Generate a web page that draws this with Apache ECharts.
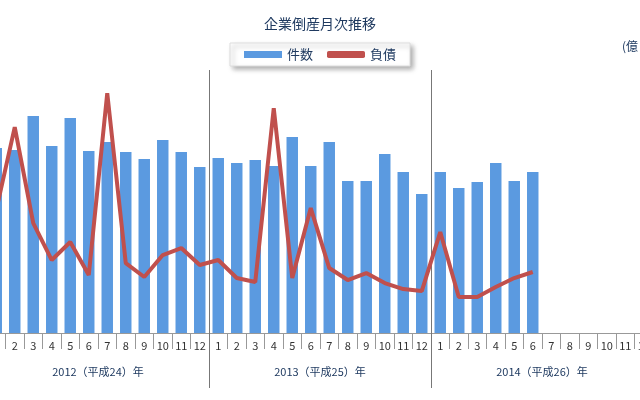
<!DOCTYPE html>
<html><head><meta charset="utf-8">
<script src="https://cdn.jsdelivr.net/npm/echarts@6/dist/echarts.min.js"></script>
<style>html,body{margin:0;padding:0;background:#fff;overflow:hidden}#c{width:666px;height:400px;margin-left:-13px}</style>
</head><body><div id="c"></div>
<script>
const months = ['1','2','3','4','5','6','7','8','9','10','11','12','1','2','3','4','5','6','7','8','9','10','11','12','1','2','3','4','5','6','7','8','9','10','11','12'];
const years = ['2012（平成24）年','2013（平成25）年','2014（平成26）年'];
const counts = [985,974,1155,995,1144,969,1017,963,926,1027,963,884, 932,905,921,889,1043,889,1017,809,809,953,857,740, 857,772,804,905,809,857];
const debt = [3272,5480,2926,1942,2421,1543,6384,1862,1490,2075,2261,1809, 1942,1463,1357,5985,1463,3325,1729,1410,1596,1330,1170,1117, 2687,958,958,1224,1463,1623];
const font = '"Noto Sans CJK JP", sans-serif';
const chart = echarts.init(document.getElementById('c'));
chart.setOption({
  animation:false,
  textStyle:{fontFamily:font},
  title:{text:'企業倒産月次推移',left:'center',top:12,textStyle:{fontSize:14,fontWeight:'normal',color:'#1f3a60',fontFamily:font}},
  legend:{top:43,left:'center',itemWidth:38,itemHeight:7,itemGap:14,padding:[5,14,5,14],
    backgroundColor:'#fff',borderColor:'#ddd',borderWidth:1,shadowColor:'rgba(0,0,0,0.35)',shadowBlur:5,shadowOffsetX:3,shadowOffsetY:3,
    textStyle:{fontSize:13,color:'#1f3a60',fontFamily:font},
    data:[{name:'件数',icon:'rect'},{name:'負債',icon:'roundRect'}]},
  grid:{left:0,right:0,top:70,bottom:67,containLabel:false},
  xAxis:[
    {type:'category',data:months,position:'bottom',
     axisLine:{lineStyle:{color:'#999'}},axisTick:{show:true,alignWithLabel:false,length:16,lineStyle:{color:'#999'}},
     axisLabel:{interval:0,fontSize:11,color:'#333',margin:7,fontFamily:font}},
    {type:'category',data:years,position:'bottom',
     axisLine:{show:false},axisTick:{show:true,length:55,lineStyle:{color:'#777'}},
     splitLine:{show:true,lineStyle:{color:'#777',width:1}},
     axisLabel:{interval:0,fontSize:11,color:'#1f3a60',margin:33,fontFamily:font}}
  ],
  yAxis:[
    {type:'value',min:0,max:1400,show:false,splitLine:{show:false}},
    {type:'value',min:0,max:7000,show:false,splitLine:{show:false}}
  ],
  graphic:[{type:'text',right:15,top:40,style:{text:'(億',fill:'#1f3a60',font:'12px '+font}}],
  series:[
    {name:'件数',type:'bar',data:counts,xAxisIndex:0,yAxisIndex:0,barCategoryGap:'38%',itemStyle:{color:'#5b9ae0'}},
    {name:'負債',type:'line',data:debt,xAxisIndex:0,yAxisIndex:1,showSymbol:false,symbol:'none',lineStyle:{color:'#c0504d',width:4},itemStyle:{color:'#c0504d'}}
  ]
});
</script></body></html>
